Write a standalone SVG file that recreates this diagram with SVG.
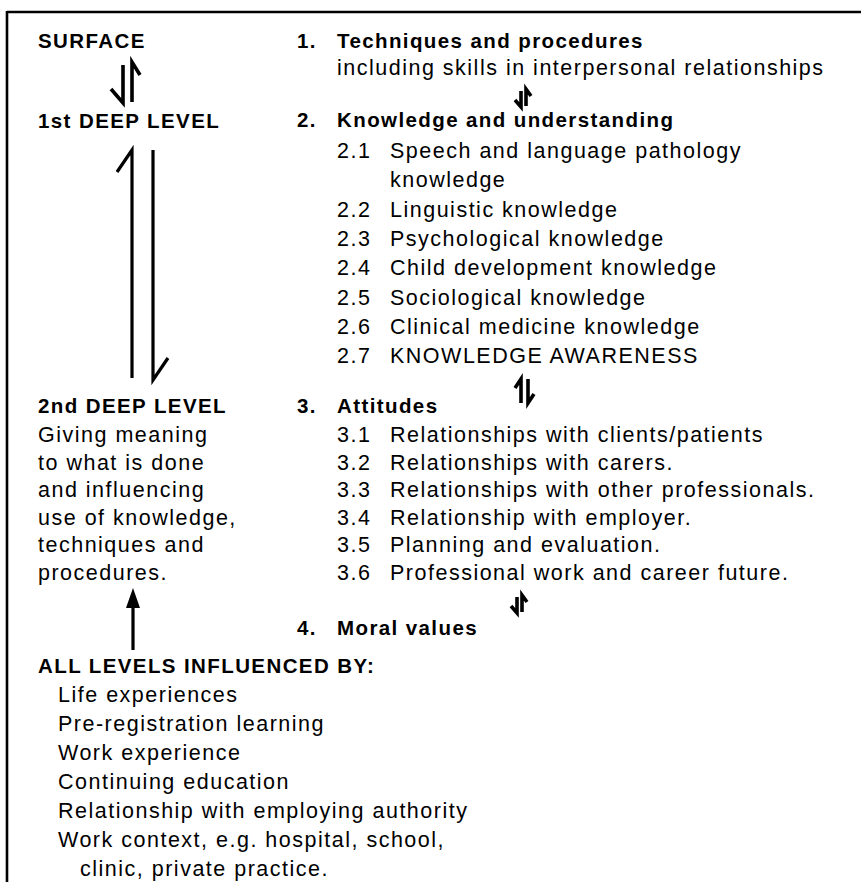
<svg xmlns="http://www.w3.org/2000/svg" width="861" height="882" viewBox="0 0 861 882">
  <style>
    text { font-family: "Liberation Sans", Arial, sans-serif; fill: #000; }
    .b { font-weight: bold; font-size: 20.5px; letter-spacing: 1.4px; }
    .r { font-size: 21.5px; letter-spacing: 1.5px; }
    .ar { fill: none; stroke: #000; stroke-width: 3.2; stroke-linecap: butt; stroke-linejoin: miter; }
    .sm { fill: none; stroke: #000; stroke-width: 3.6; stroke-linecap: butt; stroke-linejoin: miter; }
    .frame { stroke: #000; stroke-width: 2.6; fill: none; }
  </style>
  <rect width="861" height="882" fill="#fff"/>

  <!-- open frame: top rule and left rule -->
  <g id="frame">
    <line class="frame" x1="7" y1="12" x2="861" y2="12"/>
    <line class="frame" x1="7" y1="11" x2="7" y2="882"/>
  </g>

  <!-- left column: levels -->
  <g id="surface">
    <text class="b" x="38" y="48">SURFACE</text>
  </g>
  <g id="deep1">
    <text class="b" x="38" y="128">1st DEEP LEVEL</text>
  </g>
  <g id="deep2">
    <text class="b" x="38" y="413">2nd DEEP LEVEL</text>
    <text class="r" x="38" y="442">Giving meaning</text>
    <text class="r" x="38" y="470">to what is done</text>
    <text class="r" x="38" y="497">and influencing</text>
    <text class="r" x="38" y="525">use of knowledge,</text>
    <text class="r" x="38" y="552">techniques and</text>
    <text class="r" x="38" y="580">procedures.</text>
  </g>
  <g id="influences">
    <text class="b" x="38" y="673">ALL LEVELS INFLUENCED BY:</text>
    <text class="r" x="58" y="702">Life experiences</text>
    <text class="r" x="58" y="731">Pre-registration learning</text>
    <text class="r" x="58" y="760">Work experience</text>
    <text class="r" x="58" y="789">Continuing education</text>
    <text class="r" x="58" y="818">Relationship with employing authority</text>
    <text class="r" x="58" y="847">Work context, e.g. hospital, school,</text>
    <text class="r" x="80" y="876">clinic, private practice.</text>
  </g>

  <!-- right column: components -->
  <g id="techniques">
    <text class="b" x="297" y="48">1.</text>
    <text class="b" x="337" y="48">Techniques and procedures</text>
    <text class="r" x="337" y="75">including skills in interpersonal relationships</text>
  </g>
  <g id="knowledge">
    <text class="b" x="297" y="127">2.</text>
    <text class="b" x="337" y="127">Knowledge and understanding</text>
    <text class="r" x="337" y="158">2.1</text><text class="r" x="390" y="158">Speech and language pathology</text>
    <text class="r" x="390" y="187">knowledge</text>
    <text class="r" x="337" y="217">2.2</text><text class="r" x="390" y="217">Linguistic knowledge</text>
    <text class="r" x="337" y="246">2.3</text><text class="r" x="390" y="246">Psychological knowledge</text>
    <text class="r" x="337" y="275">2.4</text><text class="r" x="390" y="275">Child development knowledge</text>
    <text class="r" x="337" y="305">2.5</text><text class="r" x="390" y="305">Sociological knowledge</text>
    <text class="r" x="337" y="334">2.6</text><text class="r" x="390" y="334">Clinical medicine knowledge</text>
    <text class="r" x="337" y="363">2.7</text><text class="r" x="390" y="363">KNOWLEDGE AWARENESS</text>
  </g>
  <g id="attitudes">
    <text class="b" x="297" y="413">3.</text>
    <text class="b" x="337" y="413">Attitudes</text>
    <text class="r" x="337" y="442">3.1</text><text class="r" x="390" y="442">Relationships with clients/patients</text>
    <text class="r" x="337" y="470">3.2</text><text class="r" x="390" y="470">Relationships with carers.</text>
    <text class="r" x="337" y="497">3.3</text><text class="r" x="390" y="497">Relationships with other professionals.</text>
    <text class="r" x="337" y="525">3.4</text><text class="r" x="390" y="525">Relationship with employer.</text>
    <text class="r" x="337" y="552">3.5</text><text class="r" x="390" y="552">Planning and evaluation.</text>
    <text class="r" x="337" y="580">3.6</text><text class="r" x="390" y="580">Professional work and career future.</text>
  </g>
  <g id="moral">
    <text class="b" x="297" y="635">4.</text>
    <text class="b" x="337" y="635">Moral values</text>
  </g>

  <!-- connectors: paired half-headed arrows -->
  <g id="connectors">
    <!-- surface / 1st deep level -->
    <path class="sm" d="M123,65 V103 L111,89"/>
    <path class="sm" d="M132,102 V62 L140,75"/>
    <!-- 1st deep / 2nd deep level -->
    <path class="ar" d="M132,378 V150 L117,172"/>
    <path class="ar" d="M153,150 V380 L168,358"/>
    <!-- influences up to 2nd deep level -->
    <line class="ar" x1="133" y1="650" x2="133" y2="600"/>
    <polygon points="133,588 126,608 140,608" fill="#000"/>
    <!-- 1 / 2 -->
    <path class="sm" d="M521,91 V107 L515,100"/>
    <path class="sm" d="M526,106 V89 L531,96"/>
    <!-- 2 / 3 -->
    <path class="sm" d="M521,403 V379 L515,388"/>
    <path class="sm" d="M528,379 V403 L534,394"/>
    <!-- 3 / 4 -->
    <path class="sm" d="M517,597 V613 L511,606"/>
    <path class="sm" d="M522,612 V595 L527,602"/>
  </g>
</svg>
